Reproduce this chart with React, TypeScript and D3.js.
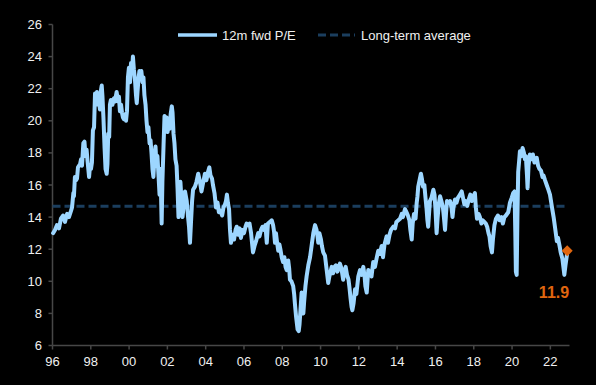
import React from "react";
import * as d3 from "d3";

const W = 596;
const H = 385;

const years: number[] = [
  1996.03, 1996.13, 1996.23, 1996.34, 1996.44, 1996.55, 1996.65, 1996.76, 1996.86, 1996.97,
  1997.02, 1997.09, 1997.12, 1997.17, 1997.23, 1997.28, 1997.33, 1997.44, 1997.49, 1997.54,
  1997.61, 1997.67, 1997.72, 1997.78, 1997.83, 1997.91, 1997.96, 1998.01, 1998.06, 1998.11,
  1998.17, 1998.22, 1998.27, 1998.32, 1998.38, 1998.43, 1998.48, 1998.53, 1998.57, 1998.61,
  1998.66, 1998.72, 1998.77, 1998.83, 1998.87, 1998.91, 1998.96, 1999.0, 1999.05, 1999.13,
  1999.21, 1999.26, 1999.35, 1999.42, 1999.47, 1999.52, 1999.58, 1999.63, 1999.68, 1999.73,
  1999.79, 1999.84, 1999.89, 1999.94, 1999.99, 2000.05, 2000.1, 2000.15, 2000.2, 2000.25,
  2000.31, 2000.36, 2000.4, 2000.44, 2000.49, 2000.54, 2000.59, 2000.64, 2000.7, 2000.75,
  2000.8, 2000.86, 2000.91, 2000.96, 2001.01, 2001.07, 2001.12, 2001.17, 2001.22, 2001.27,
  2001.33, 2001.38, 2001.43, 2001.48, 2001.54, 2001.59, 2001.64, 2001.7, 2001.74, 2001.8,
  2001.85, 2001.9, 2001.96, 2002.01, 2002.06, 2002.11, 2002.17, 2002.23, 2002.27, 2002.32,
  2002.37, 2002.42, 2002.48, 2002.53, 2002.58, 2002.63, 2002.68, 2002.74, 2002.79, 2002.84,
  2002.92, 2003.01, 2003.08, 2003.13, 2003.18, 2003.23, 2003.29, 2003.34, 2003.44, 2003.52,
  2003.61, 2003.7, 2003.78, 2003.86, 2003.96, 2004.04, 2004.12, 2004.19, 2004.25, 2004.33,
  2004.38, 2004.46, 2004.54, 2004.62, 2004.69, 2004.77, 2004.86, 2004.93, 2005.01, 2005.06,
  2005.11, 2005.16, 2005.22, 2005.27, 2005.32, 2005.4, 2005.48, 2005.56, 2005.62, 2005.69,
  2005.77, 2005.84, 2005.92, 2006.0, 2006.08, 2006.14, 2006.21, 2006.29, 2006.37, 2006.42,
  2006.47, 2006.55, 2006.63, 2006.74, 2006.81, 2006.89, 2006.97, 2007.05, 2007.12, 2007.19,
  2007.25, 2007.36, 2007.45, 2007.52, 2007.57, 2007.62, 2007.67, 2007.72, 2007.79, 2007.85,
  2007.9, 2007.97, 2008.04, 2008.11, 2008.17, 2008.23, 2008.31, 2008.36, 2008.4, 2008.48,
  2008.57, 2008.62, 2008.66, 2008.72, 2008.8, 2008.86, 2008.9, 2008.95, 2009.01, 2009.06,
  2009.1, 2009.14, 2009.21, 2009.27, 2009.36, 2009.45, 2009.53, 2009.62, 2009.71, 2009.79,
  2009.84, 2009.88, 2009.94, 2010.02, 2010.07, 2010.14, 2010.23, 2010.31, 2010.4, 2010.46,
  2010.58, 2010.65, 2010.73, 2010.8, 2010.88, 2010.96, 2011.01, 2011.09, 2011.18, 2011.25,
  2011.31, 2011.38, 2011.46, 2011.51, 2011.56, 2011.62, 2011.66, 2011.72, 2011.8, 2011.87,
  2011.97, 2012.06, 2012.14, 2012.23, 2012.3, 2012.34, 2012.41, 2012.49, 2012.58, 2012.66,
  2012.75, 2012.84, 2012.92, 2013.01, 2013.1, 2013.19, 2013.26, 2013.34, 2013.45, 2013.52,
  2013.6, 2013.68, 2013.8, 2013.89, 2013.96, 2014.06, 2014.15, 2014.24, 2014.3, 2014.41,
  2014.49, 2014.56, 2014.64, 2014.69, 2014.76, 2014.81, 2014.88, 2014.96, 2015.02, 2015.06,
  2015.1, 2015.17, 2015.24, 2015.29, 2015.35, 2015.42, 2015.48, 2015.53, 2015.58, 2015.62,
  2015.67, 2015.71, 2015.79, 2015.89, 2015.95, 2016.0, 2016.06, 2016.11, 2016.17, 2016.24,
  2016.31, 2016.39, 2016.44, 2016.5, 2016.55, 2016.6, 2016.68, 2016.76, 2016.84, 2016.89,
  2016.94, 2017.02, 2017.1, 2017.17, 2017.28, 2017.37, 2017.44, 2017.51, 2017.58, 2017.66,
  2017.74, 2017.82, 2017.9, 2017.98, 2018.06, 2018.11, 2018.17, 2018.25, 2018.32, 2018.4,
  2018.47, 2018.55, 2018.63, 2018.7, 2018.77, 2018.82, 2018.88, 2018.95, 2019.0, 2019.08,
  2019.16, 2019.26, 2019.35, 2019.45, 2019.52, 2019.6, 2019.68, 2019.8, 2019.89, 2019.98,
  2020.06, 2020.13, 2020.17, 2020.2, 2020.24, 2020.28, 2020.32, 2020.37, 2020.41, 2020.49,
  2020.55, 2020.62, 2020.67, 2020.72, 2020.78, 2020.81, 2020.86, 2020.93, 2021.01, 2021.09,
  2021.17, 2021.25, 2021.29, 2021.36, 2021.43, 2021.51, 2021.59, 2021.64, 2021.72, 2021.81,
  2021.9, 2021.98, 2022.06, 2022.1, 2022.17, 2022.25, 2022.34, 2022.4, 2022.48, 2022.54,
  2022.63, 2022.68, 2022.73, 2022.79, 2022.86, 2022.89,
];

const pe: number[] = [
  13.0, 13.2, 13.5, 13.3, 13.9, 14.1, 13.7, 14.2, 14.0, 14.4,
  14.6, 15.5, 15.3, 16.5, 16.3, 16.4, 17.1, 17.3, 17.6, 17.2,
  18.6, 18.7, 17.8, 18.2, 17.5, 16.5, 17.2, 17.0, 17.4, 19.4,
  19.6, 21.7, 21.3, 21.8, 21.0, 21.2, 20.7, 21.9, 22.2, 21.5,
  20.2, 18.3, 17.0, 16.7, 17.3, 19.2, 19.0, 21.0, 21.3, 21.0,
  21.4, 21.2, 21.8, 21.2, 21.5, 20.6, 21.0, 20.5, 20.2, 20.1,
  20.4, 20.0, 20.6, 22.7, 23.3, 22.4, 23.6, 23.0, 24.0, 23.2,
  22.5, 21.6, 21.1, 21.8, 22.6, 23.1, 22.8, 23.1, 22.4, 22.7,
  21.6, 21.0, 20.0, 19.3, 19.6, 18.6, 18.8, 18.0, 17.0, 16.5,
  17.8, 18.4, 17.2, 17.8, 16.5, 15.4, 17.0, 13.6, 16.2, 18.5,
  20.3, 19.5, 20.2, 19.3, 20.1, 19.5, 20.4, 20.9, 20.5, 19.2,
  18.6, 17.6, 17.2, 15.8, 14.0, 15.2, 16.2, 15.0, 14.0, 14.6,
  15.6, 15.0, 14.0, 13.4, 12.4, 13.6, 15.0, 15.7, 15.9, 16.2,
  16.7, 16.2, 15.6, 16.1, 16.7, 16.3, 16.8, 17.1, 16.6, 16.4,
  16.0, 15.5, 14.6, 14.9, 14.3, 14.4, 14.1, 14.6, 14.8, 15.0,
  15.4, 14.9, 14.5, 13.2, 12.4, 12.9, 12.6, 13.2, 13.4, 12.9,
  13.3, 12.7, 13.2, 13.0, 13.4, 13.6, 13.5, 13.6, 13.0, 12.4,
  11.8, 12.2, 12.5, 13.0, 12.8, 13.2, 13.4, 13.2, 13.5, 12.4,
  13.6, 13.7, 13.8, 13.5, 13.1, 12.4, 13.0, 12.5, 11.9, 12.3,
  12.0, 11.5, 11.2, 11.5, 10.9, 10.7, 11.3, 10.8, 10.1, 10.0,
  9.7, 9.2, 8.6, 7.8, 7.0, 6.9, 7.3, 8.2, 9.3, 8.6,
  8.0, 8.7, 9.7, 10.3, 11.0, 11.5, 12.2, 13.0, 13.5, 13.2,
  12.8, 12.4, 13.0, 12.6, 12.2, 11.8, 11.6, 10.8, 9.9, 10.3,
  10.9, 10.5, 10.9, 11.0, 10.6, 10.9, 11.1, 10.8, 10.1, 10.6,
  10.9, 10.4, 10.1, 9.6, 9.0, 8.4, 8.2, 8.6, 9.5, 9.2,
  10.3, 10.7, 10.4, 10.9, 10.3, 9.7, 9.3, 10.7, 10.5, 10.3,
  11.2, 10.9, 11.4, 11.9, 11.7, 12.2, 11.5, 12.3, 12.8, 12.4,
  12.9, 13.2, 13.4, 13.3, 13.7, 13.8, 13.9, 14.2, 14.0, 14.5,
  14.3, 14.1, 13.8, 13.2, 12.6, 13.6, 14.2, 13.9, 14.9, 15.3,
  15.9, 16.3, 16.7, 16.4, 15.9, 16.0, 15.2, 14.6, 13.8, 13.4,
  14.3, 15.0, 15.2, 15.7, 15.4, 14.5, 13.0, 13.9, 14.8, 15.3,
  15.0, 14.6, 14.0, 13.2, 14.2, 15.0, 14.9, 15.0, 14.6, 14.0,
  14.6, 15.1, 14.9, 15.2, 15.4, 15.6, 15.2, 14.8, 15.0, 14.7,
  15.1, 15.4, 15.0, 15.3, 15.5, 14.6, 13.9, 14.2, 14.0, 13.6,
  13.8, 13.7, 13.6, 13.4, 13.0, 12.8, 12.2, 11.8, 12.6, 13.5,
  13.9, 14.1, 13.8, 14.0, 13.6, 14.0, 14.1, 14.3, 14.9, 15.2,
  15.5, 15.6, 13.0, 10.6, 10.4, 14.0, 16.8, 17.5, 18.1, 17.8,
  18.3, 18.0, 17.6, 17.8, 16.6, 15.8, 17.2, 17.9, 17.6, 17.9,
  17.4, 17.6, 17.7, 17.2, 17.0, 16.9, 16.5, 16.6, 16.3, 16.0,
  15.7, 15.4, 14.8, 14.5, 14.0, 13.3, 12.5, 12.7, 12.2, 11.8,
  11.4, 10.9, 10.4, 11.0, 11.6, 11.9,
];

const longTermAverage = 14.67;
const latestYear = 2022.88;
const latestValue = 11.9;

const yTicks: number[] = [6, 8, 10, 12, 14, 16, 18, 20, 22, 24, 26];
const xTicks: number[] = [1996, 1998, 2000, 2002, 2004, 2006, 2008, 2010, 2012, 2014, 2016, 2018, 2020, 2022];

const seriesLabel = "12m fwd P/E";
const avgLabel = "Long-term average";

const LINE_COLOR = "#9dd6ff";
const AVG_COLOR = "#1b3e5e";
const ORANGE = "#e0660f";
const TEXT = "#f0f0f0";
const AXIS = "#474747";
const FONT = "Arial, 'Liberation Sans', sans-serif";

export default function App() {
  const x = d3.scaleLinear().domain([1996, 2023]).range([52.5, 569.5]);
  const y = d3.scaleLinear().domain([6, 26]).range([345.5, 24.5]);

  const pts: [number, number][] = years.map((yr, i) => [yr, pe[i]]);
  const line = d3
    .line<[number, number]>()
    .x((d) => x(d[0]))
    .y((d) => y(d[1]));

  const dx = x(latestYear);
  const dy = y(latestValue);
  const r = 5.5;

  return (
    <svg
      width={W}
      height={H}
      style={{ position: "absolute", left: 0, top: 0, display: "block" }}
      fontFamily={FONT}
    >
      <rect x={0} y={0} width={W} height={H} fill="#000" />

      {/* axes */}
      <line x1={x.range()[0]} x2={x.range()[0]} y1={y.range()[1]} y2={y.range()[0]} stroke={AXIS} strokeWidth={1.5} />
      <line x1={x.range()[0]} x2={x.range()[1]} y1={y.range()[0]} y2={y.range()[0]} stroke={AXIS} strokeWidth={1.5} />
      {yTicks.map((t) => (
        <g key={"y" + t}>
          <line x1={x.range()[0] - 4} x2={x.range()[0]} y1={y(t)} y2={y(t)} stroke={AXIS} strokeWidth={1.5} />
          <text x={42} y={y(t)} dy="0.35em" textAnchor="end" fontSize={13} fill={TEXT}>
            {t}
          </text>
        </g>
      ))}
      {xTicks.map((t) => (
        <g key={"x" + t}>
          <line x1={x(t)} x2={x(t)} y1={y.range()[0]} y2={y.range()[0] + 4} stroke={AXIS} strokeWidth={1.5} />
          <text x={x(t)} y={366} textAnchor="middle" fontSize={13} fill={TEXT}>
            {String(t % 100).padStart(2, "0")}
          </text>
        </g>
      ))}

      {/* long-term average */}
      <line
        x1={x(1996)}
        x2={x(2022.8)}
        y1={y(longTermAverage)}
        y2={y(longTermAverage)}
        stroke={AVG_COLOR}
        strokeWidth={3}
        strokeDasharray="8,4"
      />

      {/* series */}
      <path d={line(pts) || ""} fill="none" stroke={LINE_COLOR} strokeWidth={4} strokeLinejoin="round" strokeLinecap="round" />

      {/* latest point */}
      <path d={`M${dx},${dy - r}L${dx + r},${dy}L${dx},${dy + r}L${dx - r},${dy}Z`} fill={ORANGE} />
      <text x={554} y={298} textAnchor="middle" fontSize={16} fontWeight="bold" fill={ORANGE}>
        {latestValue.toFixed(1)}
      </text>

      {/* legend */}
      <line x1={178} x2={217} y1={35} y2={35} stroke={LINE_COLOR} strokeWidth={3.5} />
      <text x={222} y={35} dy="0.35em" fontSize={13} fill={TEXT}>
        {seriesLabel}
      </text>
      <line x1={318} x2={355} y1={35} y2={35} stroke={AVG_COLOR} strokeWidth={3} strokeDasharray="8,4" />
      <text x={361} y={35} dy="0.35em" fontSize={13} fill={TEXT}>
        {avgLabel}
      </text>
    </svg>
  );
}
